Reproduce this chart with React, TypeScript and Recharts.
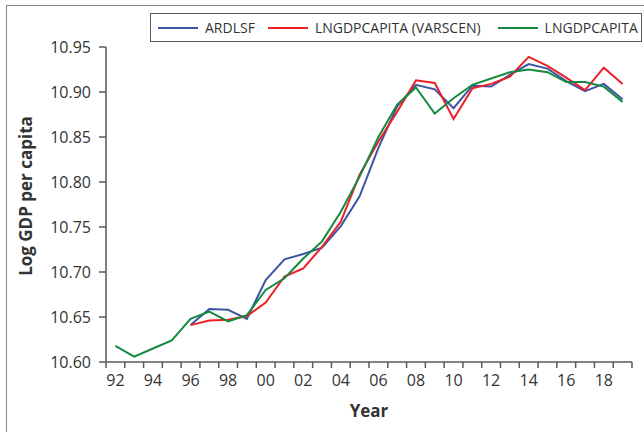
import { LineChart, Line, XAxis, YAxis } from 'recharts'

// Log GDP per capita, actual vs. the two model fits (1992-2019)

const years = [
  1992, 1993, 1994, 1995, 1996, 1997, 1998, 1999, 2000, 2001, 2002, 2003, 2004, 2005,
  2006, 2007, 2008, 2009, 2010, 2011, 2012, 2013, 2014, 2015, 2016, 2017, 2018, 2019,
]

const lngdpcapita = [
  10.618, 10.606, 10.615, 10.624, 10.648, 10.656, 10.645, 10.652, 10.68, 10.693, 10.715, 10.734, 10.767, 10.806,
  10.85, 10.886, 10.905, 10.876, 10.893, 10.908, 10.915, 10.922, 10.925, 10.922, 10.911, 10.911, 10.906, 10.889,
]

// the fitted series only start in 1996
const ardlsf = [
  null, null, null, null, 10.641, 10.659, 10.658, 10.648, 10.691, 10.714, 10.72, 10.727, 10.751, 10.784,
  10.838, 10.884, 10.908, 10.903, 10.882, 10.907, 10.906, 10.919, 10.931, 10.926, 10.912, 10.901, 10.909, 10.892,
]

const varscen = [
  null, null, null, null, 10.641, 10.646, 10.647, 10.651, 10.666, 10.695, 10.704, 10.728, 10.756, 10.808,
  10.845, 10.878, 10.913, 10.91, 10.87, 10.904, 10.909, 10.917, 10.939, 10.929, 10.916, 10.902, 10.927, 10.909,
]

const yTicks = [10.6, 10.65, 10.7, 10.75, 10.8, 10.85, 10.9, 10.95]

// tick marks sit between the years, labels every other year
const xTicks = [...years.map(y => y - 0.5), years[years.length - 1] + 0.5]

const series = [
  { key: 'ardlsf', name: 'ARDLSF', color: '#3b55a4', gapAfter: 13 },
  { key: 'varscen', name: 'LNGDPCAPITA (VARSCEN)', color: '#ec1f26', gapAfter: 17 },
  { key: 'lngdp', name: 'LNGDPCAPITA', color: '#148a40', gapAfter: 0 },
]

const data = years.map((year, i) => ({
  year,
  ardlsf: ardlsf[i],
  varscen: varscen[i],
  lngdp: lngdpcapita[i],
}))

const W = 644
const H = 432
const M = { top: 47, right: 12, bottom: 40, left: 0 }
const Y_AXIS_W = 106
const SLOT = (W - M.right - M.left - Y_AXIS_W) / years.length

const FONT = '"Open Sans", sans-serif'
const AXIS = '#595959'
const TEXT = '#333333'

function YearTick(props: any) {
  const { x, y, payload } = props
  const year = Math.round(payload.value + 0.5)
  if (year % 2 !== 0 || year > years[years.length - 1]) return <g />
  return (
    <text
      x={x + SLOT / 2}
      y={y + 16}
      textAnchor="middle"
      fill={TEXT}
      fontSize={16}
      fontFamily={FONT}
    >
      {String(year % 100).padStart(2, '0')}
    </text>
  )
}

export default function App() {
  return (
    <div style={{ position: 'fixed', left: 0, top: 0, width: W, height: H, background: '#fff', overflow: 'hidden' }}>
      <div style={{
        position: 'absolute', left: 6, top: 5, width: W, height: H,
        borderLeft: '1.5px solid #8a8a8a', borderTop: '1.5px solid #8a8a8a',
      }} />

      <LineChart width={W} height={H} data={data} margin={M}>
        <XAxis
          dataKey="year"
          type="number"
          domain={[xTicks[0], xTicks[xTicks.length - 1]]}
          ticks={xTicks}
          interval={0}
          tickSize={6}
          tick={YearTick}
          axisLine={{ stroke: AXIS, strokeWidth: 1.5 }}
          tickLine={{ stroke: AXIS, strokeWidth: 1.5 }}
        />
        <YAxis
          width={Y_AXIS_W}
          domain={[10.6, 10.95]}
          ticks={yTicks}
          interval={0}
          tickFormatter={(v: number) => v.toFixed(2)}
          tickSize={7}
          tickMargin={8}
          tick={{ fill: TEXT, fontSize: 16, fontFamily: FONT }}
          axisLine={{ stroke: AXIS, strokeWidth: 1.5 }}
          tickLine={{ stroke: AXIS, strokeWidth: 1.5 }}
        />
        {series.map(s => (
          <Line
            key={s.key}
            dataKey={s.key}
            name={s.name}
            stroke={s.color}
            strokeWidth={2}
            dot={false}
            type="linear"
            connectNulls={false}
            isAnimationActive={false}
          />
        ))}
      </LineChart>

      {/* legend box */}
      <div style={{
        position: 'absolute', left: 150, top: 13, width: 492, height: 29, boxSizing: 'border-box',
        border: `1.5px solid ${AXIS}`, display: 'flex', alignItems: 'center', paddingLeft: 7,
        fontFamily: FONT, fontSize: 14, color: TEXT,
      }}>
        {series.map(s => (
          <div key={s.key} style={{ display: 'flex', alignItems: 'center', gap: 7, marginRight: s.gapAfter }}>
            <span style={{ display: 'inline-block', width: 40, height: 2, background: s.color }} />
            <span>{s.name}</span>
          </div>
        ))}
      </div>

      <div style={{
        position: 'absolute', left: 26 - 100, top: 196 - 12, width: 200, height: 24, lineHeight: '24px',
        textAlign: 'center', transform: 'rotate(-90deg)',
        fontFamily: FONT, fontSize: 17, fontWeight: 700, color: TEXT,
      }}>
        Log GDP per capita
      </div>

      <div style={{
        position: 'absolute', left: 369 - 50, top: 411 - 12, width: 100, height: 24, lineHeight: '24px',
        textAlign: 'center', fontFamily: FONT, fontSize: 17, fontWeight: 700, color: TEXT,
      }}>
        Year
      </div>
    </div>
  )
}
